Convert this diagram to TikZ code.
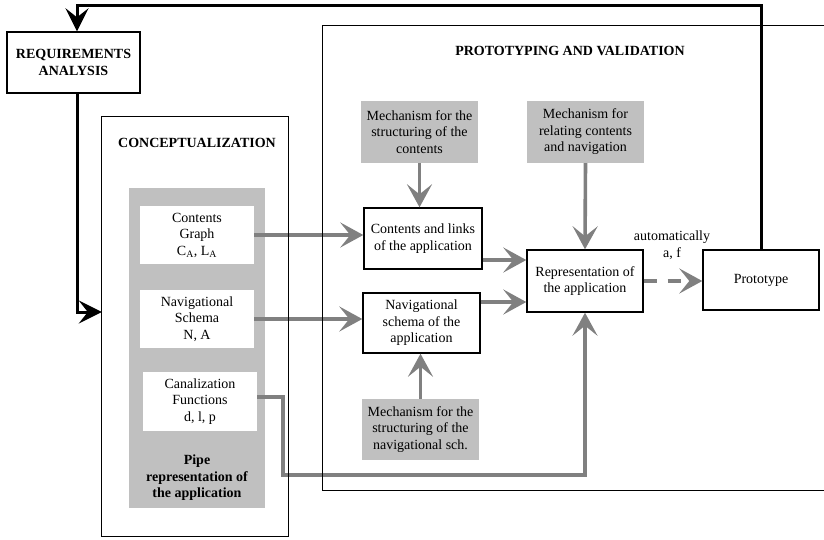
\documentclass[tikz,border=0pt]{standalone}
\usepackage{fontspec}
\setmainfont{Liberation Serif}
\usetikzlibrary{arrows.meta}
\definecolor{panelgray}{HTML}{C0C0C0}
\definecolor{flowgray}{HTML}{808080}
\begin{document}
\begin{tikzpicture}[x=1pt,y=-1pt,
  txt/.style={font=\fontsize{14}{16.5}\selectfont,align=center,inner sep=0pt},
  heading/.style={txt,font=\fontsize{14}{16.5}\selectfont\bfseries},
  whitebox/.style={txt,draw=black,line width=1.4pt,fill=white},
  innerbox/.style={txt,fill=white},
  mechbox/.style={txt,fill=panelgray},
  region/.style={inner sep=0pt},
  frameline/.style={draw=black,line width=1.3pt},
  flow/.style={draw=flowgray,line width=3.6pt,
    -{Stealth[length=23pt,width=25pt,inset=10pt]}},
  loopline/.style={draw=black,line width=3pt,
    -{Stealth[length=23pt,width=23pt,inset=9pt]}},
]
\useasboundingbox (0,0) rectangle (824,539);
\clip (0,0) rectangle (824,539);

% regions (frames are stroked last, above the flows)
\node[region,minimum width=517pt,minimum height=464pt] (pv) at (581.5,258) {};
\node[region,minimum width=186pt,minimum height=419pt] (conc) at (195,326.5) {};

% conceptualization panel
\node[heading] (conctitle) at (197,143) {CONCEPTUALIZATION};
\node[region,fill=panelgray,minimum width=136pt,minimum height=320pt] (pipe) at (197,348) {};
\node[innerbox,minimum width=114pt,minimum height=58pt] (cg) at (197,235)
  {Contents\\Graph\\C\textsubscript{A}, L\textsubscript{A}};
\node[innerbox,minimum width=114pt,minimum height=58pt] (ns) at (197,319)
  {Navigational\\Schema\\N, A};
\node[innerbox,minimum width=114pt,minimum height=59pt] (cf) at (200,401.5)
  {Canalization\\Functions\\d, l, p};
\node[heading] (pipelabel) at (197,478) {Pipe\\representation of\\the application};

% requirements
\node[whitebox,font=\fontsize{14}{16.5}\selectfont\bfseries,
  minimum width=133pt,minimum height=61pt] (req) at (73.5,62.5)
  {REQUIREMENTS\\ANALYSIS};

% prototyping and validation
\node[heading] (pvtitle) at (570,51) {PROTOTYPING AND VALIDATION};
\node[mechbox,minimum width=117pt,minimum height=62pt] (mc) at (419.5,132)
  {Mechanism for the\\structuring of the\\contents};
\node[mechbox,minimum width=117pt,minimum height=62pt] (mr) at (585.5,132)
  {Mechanism for\\relating contents\\and navigation};
\node[whitebox,minimum width=118pt,minimum height=61pt] (cl) at (423,238.5)
  {Contents and links\\of the application};
\node[whitebox,minimum width=117pt,minimum height=60pt] (nv) at (421.5,323)
  {Navigational\\schema of the\\application};
\node[mechbox,minimum width=117pt,minimum height=61pt] (mn) at (420.5,429.5)
  {Mechanism for the\\structuring of the\\navigational sch.};
\node[whitebox,minimum width=116pt,minimum height=62pt] (repr) at (585,281)
  {Representation of\\the application};
\node[whitebox,minimum width=116pt,minimum height=60pt] (proto) at (761,280)
  {Prototype};
\node[txt] (autolabel) at (672,245) {automatically\\a, f};

% flows
\draw[flow] (cg.east) -- (cg.east -| cl.west);
\draw[flow] (ns.east) -- (ns.east -| nv.west);
\draw[flow] (mc.south) -- (mc.south |- cl.north);
\draw[flow] (mn.north) -- (mn.north |- nv.south);
\draw[flow] (mr.south) -- (repr.north);
\draw[flow] ([yshift=-21.5pt]cl.east) coordinate (clout) -- (clout -| repr.west);
\draw[flow] ([yshift=21pt]nv.east) coordinate (nvout) -- (nvout -| repr.west);
\draw[flow,dash pattern=on 13pt off 11pt] (repr.east) -- (repr.east -| proto.west);
\coordinate (cfbend) at (283,475);
\draw[flow] ([yshift=4.5pt]cf.east) -| (cfbend) -| (repr.south);

% feedback loop
\coordinate (fbtop) at (77,5);
\draw[loopline] (proto.north) |- (fbtop) -- (fbtop |- req.north);
\coordinate (rqbend) at (77,312);
\draw[loopline] (rqbend |- req.south) -- (rqbend) -- (rqbend -| conc.west);

% frames
\draw[frameline] (pv.north west) rectangle (pv.south east);
\draw[frameline] (conc.north west) rectangle (conc.south east);
\end{tikzpicture}
\end{document}
